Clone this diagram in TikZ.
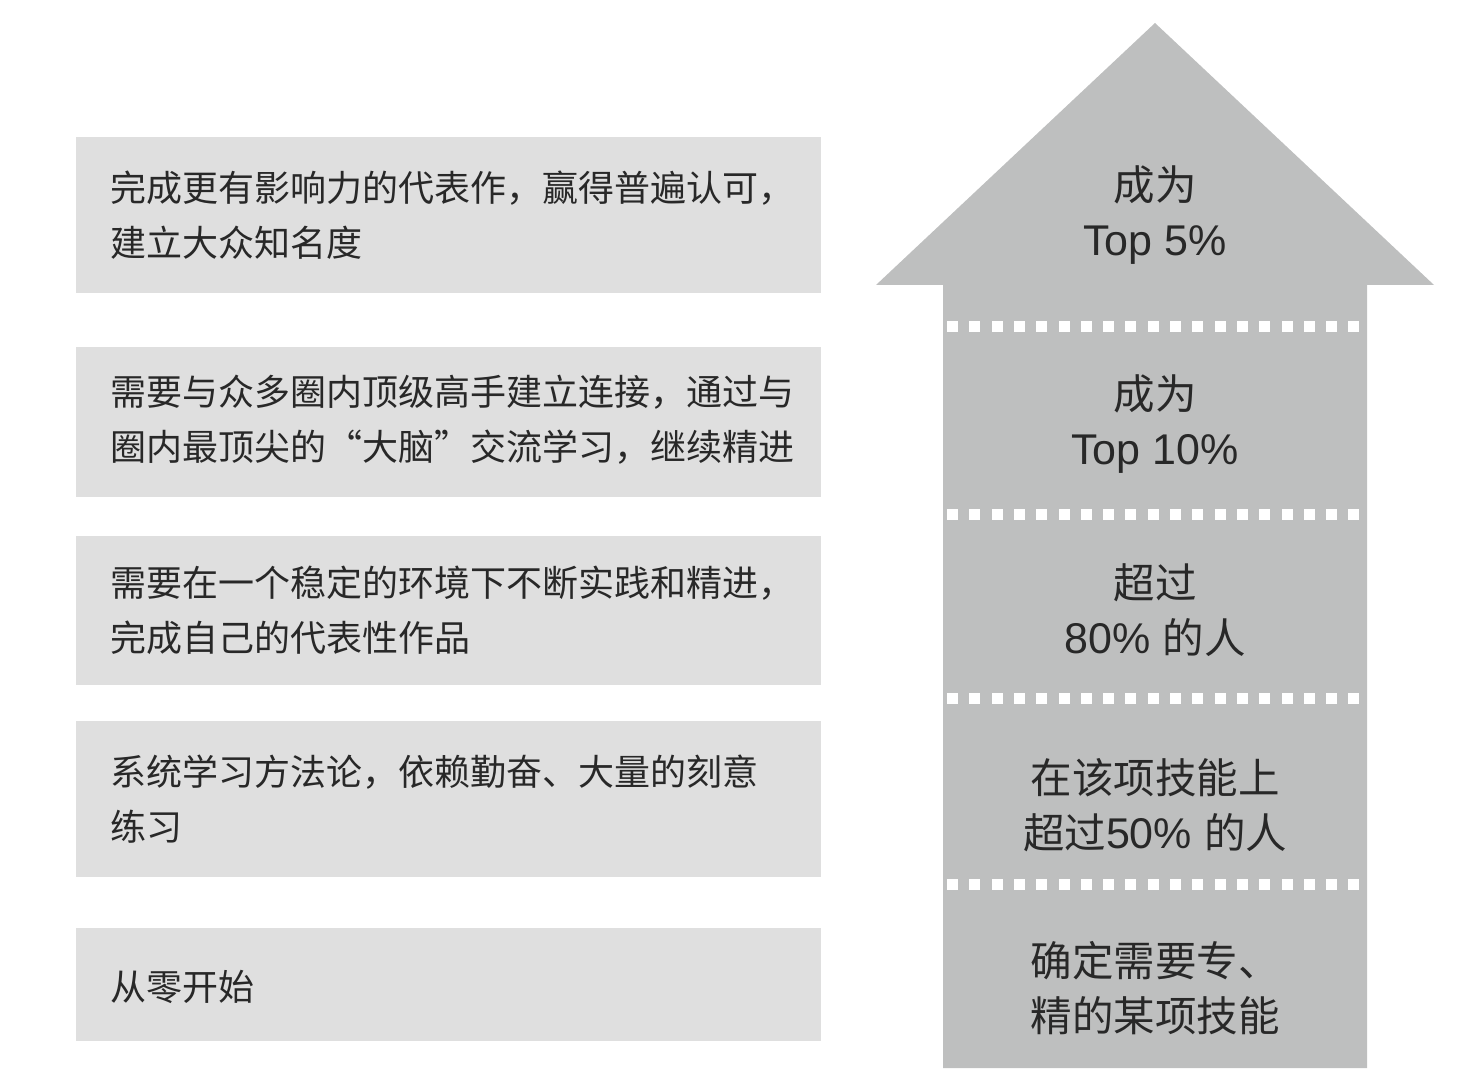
\documentclass[tikz,border=0pt]{standalone}
\usepackage{fontspec}
\setmainfont{Noto Sans CJK SC}
\newfontfamily\latfont{Liberation Sans}
\definecolor{boxgray}{RGB}{223,223,223}
\definecolor{arrowgray}{RGB}{190,191,191}
\definecolor{txt}{RGB}{40,40,40}
\newcommand{\myLq}{\makebox[1em][r]{“}}
\newcommand{\myRq}{\makebox[1em][l]{”}}
\newcommand{\lat}[1]{{\latfont\fontsize{43pt}{55pt}\selectfont #1}}
\begin{document}
\begin{tikzpicture}[x=1pt,y=-1pt,
  lbox/.style={fill=boxgray, draw=none, anchor=north west, minimum width=745pt, inner sep=0pt},
  ltext/.style={anchor=west, align=left, text=txt, inner sep=0pt, font=\fontsize{36pt}{55pt}\selectfont},
  rtext/.style={align=center, text=txt, inner sep=0pt, font=\fontsize{41.5pt}{55pt}\selectfont}]
\useasboundingbox (0,0) rectangle (1470,1091);
% left boxes
\node[lbox, minimum height=156pt] (b1) at (76,137) {};
\node[lbox, minimum height=150pt] (b2) at (76,347) {};
\node[lbox, minimum height=149pt] (b3) at (76,536) {};
\node[lbox, minimum height=156pt] (b4) at (76,721) {};
\node[lbox, minimum height=113pt] (b5) at (76,928) {};
\node[ltext] (t1) at ([xshift=34pt]b1.west) {完成更有影响力的代表作，赢得普遍认可，\\建立大众知名度};
\node[ltext] (t2) at ([xshift=34pt,yshift=3pt]b2.west) {需要与众多圈内顶级高手建立连接，通过与\\圈内最顶尖的\myLq 大脑\myRq 交流学习，继续精进};
\node[ltext] (t3) at ([xshift=34pt]b3.west) {需要在一个稳定的环境下不断实践和精进，\\完成自己的代表性作品};
\node[ltext] (t4) at ([xshift=34pt]b4.west) {系统学习方法论，依赖勤奋、大量的刻意\\练习};
\node[ltext] (t5) at ([xshift=34pt,yshift=-2pt]b5.west) {从零开始};
% arrow
\fill[arrowgray] (1155,23) -- (1434,285) -- (1367,285) -- (1367,1068) -- (943,1068) -- (943,285) -- (876,285) -- cycle;
% separators
\foreach \yy in {327,514,698,884}{
  \foreach \i in {0,...,18}{
    \fill[white] ({947+22.3*\i},{\yy-5.5}) rectangle ++(11,11);
  }
}
% right texts
\node[rtext] (r1) at (1155,215) {成为\\\lat{Top 5\%}};
\node[rtext] (r2) at (1155,424) {成为\\\lat{Top 10\%}};
\node[rtext] (r3) at (1155,610) {超过\\\lat{80\% }的人};
\node[rtext] (r4) at (1155,805) {在该项技能上\\超过\lat{50\% }的人};
\node[rtext] (r5) at (1155,988) {确定需要专、\\精的某项技能};
\end{tikzpicture}
\end{document}
